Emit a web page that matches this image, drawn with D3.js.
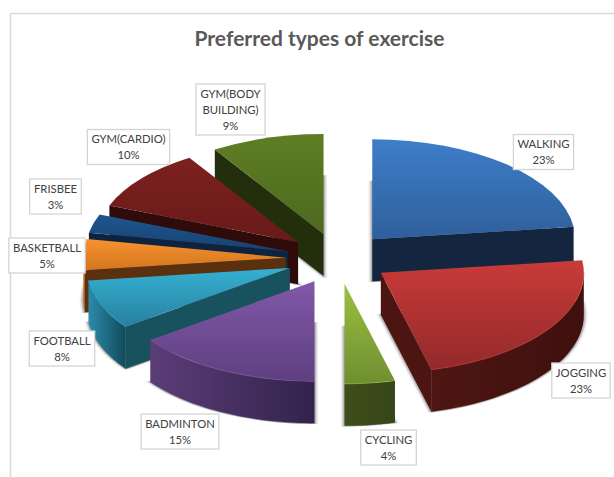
<!DOCTYPE html>
<html>
<head>
<meta charset="utf-8">
<script src="https://cdn.jsdelivr.net/npm/d3@7"></script>
<style>
  body { margin: 0; background: #fff; }
  text { font-family: Lato, "Noto Sans", sans-serif; }
</style>
</head>
<body>
<div id="chart"></div>
<script>
// data, clockwise from 12 o'clock
var categories = ["WALKING", "JOGGING", "CYCLING", "BADMINTON", "FOOTBALL", "BASKETBALL", "FRISBEE", "GYM(CARDIO)", "GYM(BODY BUILDING)"];
var shares = [23, 23, 4, 15, 8, 5, 3, 10, 9];

// colours for each slice
var faceTop    = ["#3e7ec9", "#c93b39", "#9cbf41", "#8059a8", "#35b1d3", "#f8922e", "#1f5690", "#7c2120", "#5f7e23"];
var faceBottom = ["#2f5f9b", "#94292a", "#6f8f30", "#5f3f80", "#27809e", "#d2761f", "#17416f", "#681a19", "#4d6820"];
var wallLeft   = ["#14263f", "#4e1613", "#3d4e19", "#5b3d78", "#2b8cab", "#dd7c20", "#0e2440", "#300c0a", "#2a3a10"];
var wallRight  = ["#14263f", "#3f100e", "#37461a", "#33224c", "#124a5c", "#8a4e16", "#0e2440", "#300c0a", "#1e2a0a"];
var cutFace    = ["#14263f", "#4c1512", "#3d4e19", "#5b3d78", "#18525f", "#5a300f", "#0d2340", "#2f0b09", "#232f0c"];

// label box centres, same order as categories
var labelCenters = [[543.5, 152], [581, 380.5], [388.5, 447.5], [180, 431.5], [62, 348.5], [47, 255.5], [55.5, 196.5], [128.5, 147], [230.5, 109.5]];

var width = 614, height = 477;

// pie geometry
var cx = 338, cy = 258.5;
var rx = 203, ry = 100;
var explode = 0.255;
var depth = 42;

var svg = d3.select("#chart").append("svg")
  .attr("width", width)
  .attr("height", height);

var defs = svg.append("defs");

defs.append("filter")
  .attr("id", "soft")
  .attr("x", "-10%").attr("y", "-10%")
  .attr("width", "120%").attr("height", "120%")
  .append("feGaussianBlur")
  .attr("stdDeviation", 1.6);

function addGradient(id, horizontal, from, to) {
  var g = defs.append("linearGradient")
    .attr("id", id)
    .attr("x1", 0).attr("y1", 0)
    .attr("x2", horizontal ? 1 : 0).attr("y2", horizontal ? 0 : 1);
  g.append("stop").attr("offset", "0%").attr("stop-color", from);
  g.append("stop").attr("offset", "100%").attr("stop-color", to);
}

// chart area border, only top and left show
svg.append("path")
  .attr("d", d3.line()([[width, 13.5], [10.5, 13.5], [10.5, height]]))
  .attr("fill", "none")
  .attr("stroke", "#d9d9d9")
  .attr("stroke-width", 1.5);

svg.append("text")
  .attr("x", 319.5)
  .attr("y", 45.5)
  .attr("text-anchor", "middle")
  .attr("font-size", 21)
  .attr("font-weight", 700)
  .attr("fill", "#595959")
  .text("Preferred types of exercise");

var pie = d3.pie().sort(null).value(d => d.share);
var arcs = pie(categories.map((c, i) => ({ name: c, share: shares[i], idx: i })));

arcs.forEach(d => {
  var mid = (d.startAngle + d.endAngle) / 2;
  d.ax = cx + Math.sin(mid) * rx * explode;
  d.ay = cy - Math.cos(mid) * ry * explode;
});

var faceArc = d3.arc().innerRadius(0).outerRadius(rx);
var poly = d3.line();

function rim(d, a) {
  return [d.ax + Math.sin(a) * rx, d.ay - Math.cos(a) * ry];
}

// back slices first
var order = arcs.slice().sort((a, b) => a.ay - b.ay);

order.forEach(d => {
  var i = d.data.idx;
  var g = svg.append("g");

  addGradient("face" + i, false, faceTop[i], faceBottom[i]);
  addGradient("wall" + i, true, wallLeft[i], wallRight[i]);

  // soft shadow under the bottom of the slice
  g.append("path")
    .attr("d", faceArc(d))
    .attr("transform", `translate(${d.ax},${d.ay + depth}) scale(1,${ry / rx})`)
    .attr("fill", "#666")
    .attr("stroke", "#666")
    .attr("stroke-width", 3)
    .attr("opacity", 0.7)
    .attr("filter", "url(#soft)");

  // flat cut faces, only the ones turned to the viewer
  [d.startAngle, d.endAngle].forEach((a, k) => {
    var visible = k == 0 ? Math.sin(a) < -0.001 : Math.sin(a) > 0.001;
    if (!visible) return;
    var p = rim(d, a);
    g.append("path")
      .attr("d", poly([[d.ax, d.ay], p, [p[0], p[1] + depth], [d.ax, d.ay + depth]]) + "Z")
      .attr("fill", cutFace[i]);
  });

  // outer wall, lower half of the ellipse
  var a0 = Math.max(d.startAngle, Math.PI / 2);
  var a1 = Math.min(d.endAngle, Math.PI * 1.5);
  var top = null;
  if (a1 > a0) {
    var steps = d3.range(0, 41).map(t => a0 + (a1 - a0) * t / 40);
    top = steps.map(a => rim(d, a));
    var bottom = top.map(p => [p[0], p[1] + depth]).reverse();
    g.append("path")
      .attr("d", poly(top.concat(bottom)) + "Z")
      .attr("fill", `url(#wall${i})`);
  }

  // top face
  g.append("path")
    .attr("d", faceArc(d))
    .attr("transform", `translate(${d.ax},${d.ay}) scale(1,${ry / rx})`)
    .attr("fill", `url(#face${i})`);

  // light bevel where the face meets the wall
  if (top) {
    g.append("path")
      .attr("d", poly(top))
      .attr("fill", "none")
      .attr("stroke", faceTop[i])
      .attr("stroke-width", 1)
      .attr("opacity", 0.6);
  }
});

// data labels
arcs.forEach((d, i) => {
  var lines = d.data.name.split(" ").concat(d.data.share + "%");
  var c = labelCenters[i];
  var lineH = 16;
  var lab = svg.append("g").attr("transform", `translate(${c[0]},${c[1]})`);
  var box = lab.append("rect");
  var txt = lab.append("g");
  lines.forEach((t, k) => {
    txt.append("text")
      .attr("text-anchor", "middle")
      .attr("y", (k - (lines.length - 1) / 2) * lineH + 4)
      .attr("font-size", 11.3)
      .attr("fill", "#404040")
      .text(t);
  });
  var bw = txt.node().getBBox().width + 8;
  var bh = lines.length * lineH + 3;
  box.attr("x", -bw / 2).attr("y", -bh / 2)
    .attr("width", bw).attr("height", bh)
    .attr("fill", "#fff")
    .attr("stroke", "#d4d4d4")
    .attr("stroke-width", 1.3);
});
</script>
</body>
</html>
